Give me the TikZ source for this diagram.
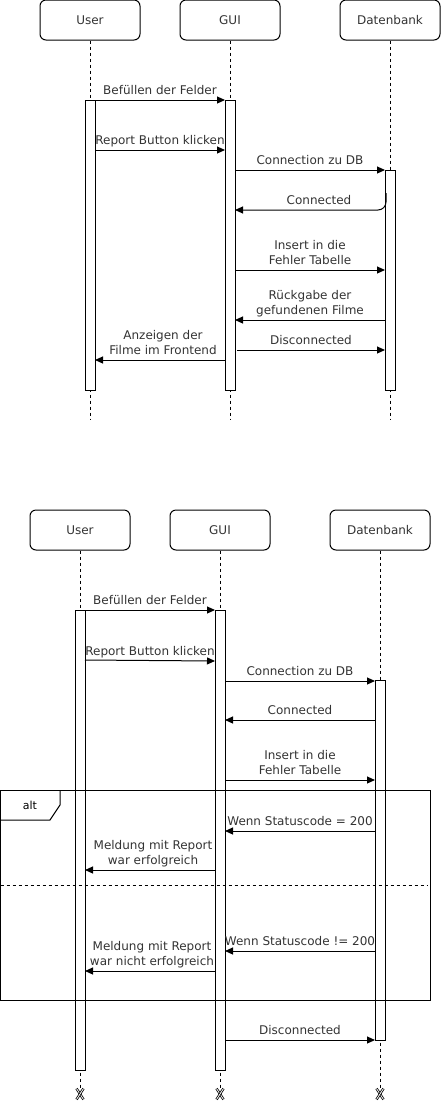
\documentclass[tikz,border=0pt]{standalone}
\usepackage{fontspec}
\setmainfont{DejaVu Sans}
\usetikzlibrary{arrows.meta}
\definecolor{txt}{HTML}{333333}
\tikzset{
  actor/.style={draw, rounded corners=6pt, minimum width=100pt, minimum height=40pt, line width=1pt, font=\fontsize{12}{14}\selectfont, text=txt, inner sep=0},
  life/.style={dashed, dash pattern=on 3pt off 3pt, line width=1pt},
  act/.style={draw, fill=white, line width=1pt},
  msg/.style={line width=1pt, -{Triangle[length=8pt,width=7pt]}},
  lbltext/.style={anchor=south, inner sep=0, text depth=0pt, yshift=5pt, align=center, text=txt, font=\fontsize{12}{15}\selectfont},
  lbl/.style={midway, lbltext},
  xmark/.style={line width=2.4pt, draw=black, postaction={draw=white, line width=0.8pt}},
  fr/.style={draw, line width=1pt}
}
\begin{document}
\begin{tikzpicture}[x=1pt,y=-1pt]
\useasboundingbox (0,0) rectangle (441,1101);
% ---------- top diagram ----------
\node[actor] (u1) at (90,20) {User};
\node[actor] (g1) at (230,20) {GUI};
\node[actor] (d1) at (390,20) {Datenbank};
\coordinate (u1e) at (90,420);
\coordinate (g1e) at (230,420);
\coordinate (d1e) at (390,420);
\draw[life] (u1.south) -- (u1e);
\draw[life] (g1.south) -- (g1e);
\draw[life] (d1.south) -- (d1e);
\draw[act] (85,100) rectangle (95,390);
\draw[act] (225,100) rectangle (235,390);
\draw[act] (385,170) rectangle (395,390);
\coordinate (a1) at (95,100); \coordinate (b1) at (225,100);
\draw[msg] (a1) -- (b1) node[lbl] {Befüllen der Felder};
\coordinate (a2) at (95,150); \coordinate (b2) at (225,150);
\draw[msg] (a2) -- (b2) node[lbl] {Report Button klicken};
\coordinate (a3) at (235,170); \coordinate (b3) at (385,170);
\draw[msg] (a3) -- (b3) node[lbl] {Connection zu DB};
\coordinate (a4) at (386,193); \coordinate (b4) at (235,210);
\draw[msg, rounded corners=8pt] (a4) -- (386,210) -- (b4);
\node[lbltext] (lc) at (319,210) {Connected};
\coordinate (a5) at (235,270); \coordinate (b5) at (385,270);
\draw[msg] (a5) -- (b5) node[lbl] {Insert in die\\Fehler Tabelle};
\coordinate (a6) at (385,320); \coordinate (b6) at (235,320);
\draw[msg] (a6) -- (b6) node[lbl] {Rückgabe der\\gefundenen Filme};
\coordinate (a7) at (237,350); \coordinate (b7) at (385,350);
\draw[msg] (a7) -- (b7) node[lbl] {Disconnected};
\coordinate (a8) at (225,360); \coordinate (b8) at (95,360);
\draw[msg] (a8) -- (b8) node[lbl, xshift=3pt] {Anzeigen der\\Filme im Frontend};
% ---------- bottom diagram ----------
\node[actor] (u2) at (80,530) {User};
\node[actor] (g2) at (220,530) {GUI};
\node[actor] (d2) at (380,530) {Datenbank};
\coordinate (u2e) at (80,1088);
\coordinate (g2e) at (220,1088);
\coordinate (d2e) at (380,1088);
\draw[life] (u2.south) -- (u2e);
\draw[life] (g2.south) -- (g2e);
\draw[life] (d2.south) -- (d2e);
\draw[act] (75,610) rectangle (85,1070);
\draw[act] (215,610) rectangle (225,1070);
\draw[act] (375,680) rectangle (385,1040);
\foreach \xx in {80,220,380}{
  \draw[xmark] (\xx-3.5,1088.5) -- (\xx+3.5,1099.5);
  \draw[xmark] (\xx+3.5,1088.5) -- (\xx-3.5,1099.5);
}
% alt frame
\draw[fr] (0.5,790) rectangle (430,1000);
\draw[fr] (0.5,820) -- (50,820) -- (60,805) -- (60,790);
\node[font=\fontsize{11}{13}\selectfont, text=black] (alt) at (30,805) {alt};
\draw[dashed, dash pattern=on 3pt off 3pt, line width=1pt] (0.5,885) -- (428,885);
\coordinate (c1) at (85,610); \coordinate (e1) at (215,610);
\draw[msg] (c1) -- (e1) node[lbl] {Befüllen der Felder};
\coordinate (c2) at (85,660); \coordinate (e2) at (215,661);
\draw[msg] (c2) -- (e2) node[lbl] {Report Button klicken};
\coordinate (c3) at (225,681); \coordinate (e3) at (375,681);
\draw[msg] (c3) -- (e3) node[lbl] {Connection zu DB};
\coordinate (c4) at (375,720); \coordinate (e4) at (225,720);
\draw[msg] (c4) -- (e4) node[lbl] {Connected};
\coordinate (c5) at (225,780); \coordinate (e5) at (375,780);
\draw[msg] (c5) -- (e5) node[lbl] {Insert in die\\Fehler Tabelle};
\coordinate (c6) at (375,831); \coordinate (e6) at (225,831);
\draw[msg] (c6) -- (e6) node[lbl] {Wenn Statuscode = 200};
\coordinate (c7) at (215,870); \coordinate (e7) at (85,870);
\draw[msg] (c7) -- (e7) node[lbl, xshift=3pt] {Meldung mit Report\\war erfolgreich};
\coordinate (c8) at (375,951); \coordinate (e8) at (225,951);
\draw[msg] (c8) -- (e8) node[lbl] {Wenn Statuscode != 200};
\coordinate (c9) at (215,971); \coordinate (e9) at (85,971);
\draw[msg] (c9) -- (e9) node[lbl, xshift=2pt] {Meldung mit Report\\war nicht erfolgreich};
\coordinate (c10) at (225,1040); \coordinate (e10) at (375,1040);
\draw[msg] (c10) -- (e10) node[lbl] {Disconnected};
\end{tikzpicture}
\end{document}
